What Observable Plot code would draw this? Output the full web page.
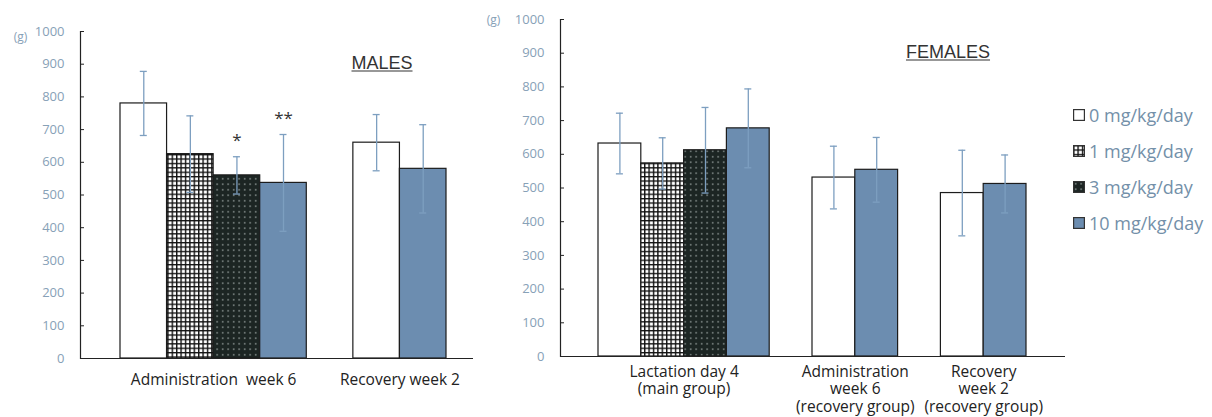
<!DOCTYPE html>
<html><head><meta charset="utf-8">
<script src="https://cdn.jsdelivr.net/npm/d3@7"></script>
<script src="https://cdn.jsdelivr.net/npm/@observablehq/plot@0.6"></script>
<style>
body{margin:0;background:#fff;}
#wrap{position:relative;width:1212px;height:417px;overflow:hidden;font-family:"Open Sans",sans-serif;}
.panel{position:absolute;top:0;}
.title{position:absolute;font-family:"Liberation Sans",Arial,sans-serif;font-size:18px;color:#333;text-decoration:underline;text-underline-offset:2px;transform:translate(-50%,-50%);white-space:nowrap;}
#legend{position:absolute;left:1073px;top:97px;}
.item{display:flex;align-items:center;height:36px;font-size:18px;color:#7390a9;white-space:nowrap;}
.item svg{margin-right:4px;}
</style></head><body><div id="wrap"></div>
<script>
// ---- data ----
const doseKeys = ["0", "1", "3", "10"];
const doseLabels = ["0 mg/kg/day", "1 mg/kg/day", "3 mg/kg/day", "10 mg/kg/day"];
const yTicks = [0, 100, 200, 300, 400, 500, 600, 700, 800, 900, 1000];

const maleTitle = "MALES";
const maleGroup = ["Administration  week 6", "Administration  week 6", "Administration  week 6", "Administration  week 6", "Recovery week 2", "Recovery week 2"];
const maleDose = ["0", "1", "3", "10", "0", "10"];
const maleMean = [780, 625, 560, 537, 660, 580];
const maleSD = [98, 117, 57, 148, 86, 135];
const maleSig = ["", "", "*", "**", "", ""];

const femaleTitle = "FEMALES";
const femaleGroup = ["Lactation day 4\n(main group)", "Lactation day 4\n(main group)", "Lactation day 4\n(main group)", "Lactation day 4\n(main group)",
  "Administration\nweek 6\n(recovery group)", "Administration\nweek 6\n(recovery group)",
  "Recovery\nweek 2\n(recovery group)", "Recovery\nweek 2\n(recovery group)"];
const femaleDose = ["0", "1", "3", "10", "0", "10", "0", "10"];
const femaleMean = [632, 573, 612, 677, 531, 554, 485, 512];
const femaleSD = [90, 76, 127, 117, 93, 96, 127, 86];
const femaleSig = ["", "", "", "", "", "", "", ""];
const yUnit = "(g)";

// ---- styles ----
const fills = {"0": "#ffffff", "1": "url(#pGrid)", "3": "url(#pDots)", "10": "#6c8db0"};
const errColor = "#7d9fc0";
const tickColor = "#87a1b7";

const wrap = document.getElementById("wrap");
wrap.insertAdjacentHTML("beforeend", `<svg width="0" height="0" style="position:absolute">
<defs>
<pattern id="pGrid" width="4.4" height="4.4" patternUnits="userSpaceOnUse">
<rect width="4.4" height="4.4" fill="#fff"/><path d="M0 0.7H4.4M0.7 0V4.4" stroke="#111" stroke-width="1.4"/></pattern>
<pattern id="pDots" width="5.5" height="5.5" patternUnits="userSpaceOnUse">
<rect width="5.5" height="5.5" fill="#1c2523"/><circle cx="2.7" cy="2.7" r="0.75" fill="#c9d2cf"/></pattern>
</defs></svg>`);

function rowsOf(groups, doses, means, sds, sigs) {
  let slot = -1, prev = null;
  return groups.map((g, i) => {
    if (prev !== null && g !== prev) slot += 1;
    slot += 1; prev = g;
    return {group: g, dose: doses[i], mean: means[i], sd: sds[i], sig: sigs[i], s: slot};
  });
}

function chart(rows, o) {
  const nSlots = d3.max(rows, d => d.s) + 1;
  const groups = d3.groups(rows, d => d.group).map(([g, rs]) => ({group: g, c: (d3.min(rs, d => d.s) + d3.max(rs, d => d.s) + 1) / 2}));
  const cap = 3.5 / ((o.xRange[1] - o.xRange[0]) / nSlots);
  return Plot.plot({
    width: o.width, height: o.height,
    marginLeft: o.ml, marginRight: o.mr, marginTop: o.mt, marginBottom: o.mb,
    x: {type: "linear", domain: [0, nSlots], range: o.xRange, axis: null},
    y: {domain: [0, 1000], axis: null},
    color: {type: "identity"},
    style: {fontFamily: "Open Sans", fontSize: "13px", background: "transparent", overflow: "visible"},
    marks: [
      Plot.rectY(rows, {x1: "s", x2: d => d.s + 1, y1: 0, y2: "mean", fill: d => fills[d.dose], stroke: "#1c1c1c", strokeWidth: 1.2}),
      Plot.ruleX(rows, {x: d => d.s + 0.5, y1: d => d.mean - d.sd, y2: d => d.mean + d.sd, stroke: errColor, strokeWidth: 1.3}),
      Plot.ruleY(rows, {y: d => d.mean + d.sd, x1: d => d.s + 0.5 - cap, x2: d => d.s + 0.5 + cap, stroke: errColor, strokeWidth: 1.3}),
      Plot.ruleY(rows, {y: d => d.mean - d.sd, x1: d => d.s + 0.5 - cap, x2: d => d.s + 0.5 + cap, stroke: errColor, strokeWidth: 1.3}),
      Plot.text(rows.filter(d => d.sig), {x: d => d.s + 0.5, y: d => d.mean + d.sd, text: "sig", dy: -16, fontSize: 17, fill: "#333"}),
      Plot.ruleY([0], {stroke: "#222", strokeWidth: 1.2}),
      Plot.frame({anchor: "left", stroke: "#222", strokeWidth: 1.2}),
      Plot.axisY({ticks: yTicks, tickFormat: d => String(d), tickSize: -4, tickPadding: 20, fill: tickColor, stroke: "#222", fontSize: 13, label: null}),
      Plot.text(groups, {x: "c", text: "group", frameAnchor: "bottom", lineAnchor: "top", dy: o.labelDy, fontSize: o.labelSize, lineHeight: o.labelLH, fill: "#222"}),
      Plot.text([yUnit], {frameAnchor: "top-left", textAnchor: "middle", lineAnchor: "middle", dx: o.unitDx, dy: o.unitDy, fontSize: 12, fill: tickColor})
    ]
  });
}

const m = chart(rowsOf(maleGroup, maleDose, maleMean, maleSD, maleSig),
  {width: 490, height: 417, ml: 80, mr: 17, mt: 31, mb: 59, xRange: [120, 446], labelDy: 14, labelSize: 15.5, labelLH: 1.1, unitDx: -60, unitDy: 6});
m.classList.add("panel"); m.style.left = "0px";
wrap.appendChild(m);

const f = chart(rowsOf(femaleGroup, femaleDose, femaleMean, femaleSD, femaleSig),
  {width: 590, height: 417, ml: 70, mr: 15, mt: 19, mb: 61, xRange: [108, 536], labelDy: 8, labelSize: 15.5, labelLH: 1.12, unitDx: -67, unitDy: 1});
f.classList.add("panel"); f.style.left = "490px";
wrap.appendChild(f);

wrap.insertAdjacentHTML("beforeend", `<div class="title" style="left:382px;top:63px">${maleTitle}</div><div class="title" style="left:948px;top:52px">${femaleTitle}</div>`);

const legend = document.createElement("div");
legend.id = "legend";
doseKeys.forEach((k, i) => {
  const it = document.createElement("div");
  it.className = "item";
  it.innerHTML = `<svg width="12" height="12"><rect x="0.6" y="0.6" width="10.8" height="10.8" fill="${fills[k]}" stroke="#333" stroke-width="1.2"/></svg><span>${doseLabels[i]}</span>`;
  legend.appendChild(it);
});
wrap.appendChild(legend);
</script></body></html>
